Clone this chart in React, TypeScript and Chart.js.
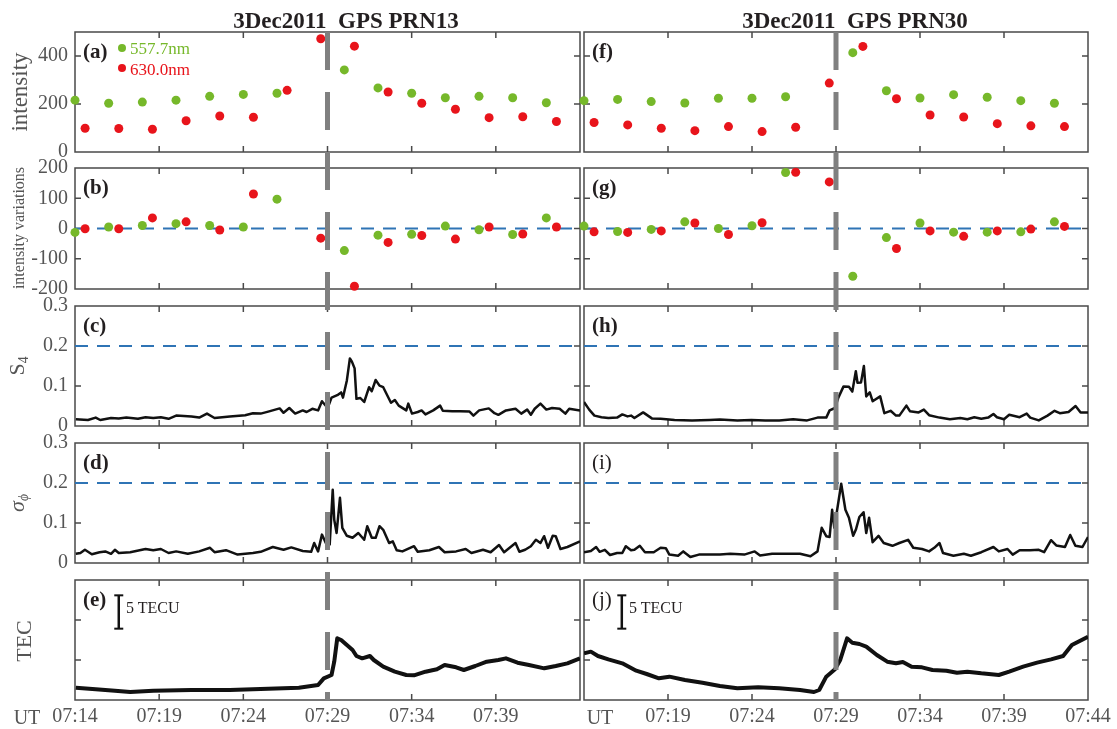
import React, { useEffect, useRef } from "react";
import { Chart, registerables } from "chart.js";

Chart.register(...registerables);

/* ================= data ================= */
// time axis: minutes after 07:14 UT
const timeRange = [0, 30];
const timeTicks = [0, 5, 10, 15, 20, 25, 30];
const xLabelsPRN13 = ["07:14", "07:19", "07:24", "07:29", "07:34", "07:39", ""];
const xLabelsPRN30 = ["", "07:19", "07:24", "07:29", "07:34", "07:39", "07:44"];
const eventTime = 15; // 07:29

const intensityTicks = [0, 200, 400];
const variationTicks = [-200, -100, 0, 100, 200];
const scintTicks = [0, 0.1, 0.2, 0.3];
const tecTicks = [6, 12];

const zeroLevel = 0;
const s4Threshold = 0.2;
const sigmaThreshold = 0.2;

// airglow sample times
const greenTimes = [0, 2, 4, 6, 8, 10, 12, 16, 18, 20, 22, 24, 26, 28];
const redTimes = [0.6, 2.6, 4.6, 6.6, 8.6, 10.6, 12.6, 14.6, 16.6, 18.6, 20.6, 22.6, 24.6, 26.6, 28.6];

// PRN13 airglow intensity
const green13 = [216, 203, 208, 216, 232, 240, 245, 342, 267, 245, 226, 232, 226, 205];
const red13 = [99, 98, 95, 130, 150, 145, 257, 472, 441, 250, 203, 178, 143, 147, 127];
// PRN13 intensity variations
const green13Var = [-13, 5, 10, 16, 10, 5, 97, -73, -22, -19, 8, -4, -20, 35];
const red13Var = [-1, -1, 35, 22, -5, 114, null, -32, -191, -46, -23, -35, 5, -18, 5];

// PRN30 airglow intensity
const green30 = [214, 219, 210, 204, 224, 224, 230, 414, 255, 225, 239, 228, 214, 203];
const red30 = [123, 113, 99, 89, 106, 85, 103, 287, 440, 222, 154, 146, 118, 109, 106];
// PRN30 intensity variations
const green30Var = [8, -10, -3, 22, 0, 9, 185, -158, -30, 18, -12, -12, -11, 22];
const red30Var = [-11, -13, -8, 18, -20, 19, 186, 154, null, -66, -8, -26, -8, -2, 7];

// S4 PRN13
const s4Times13 = [0.05, 0.77, 1.23, 1.5, 2.14, 2.6, 3.05, 3.74, 4.19, 4.65, 5.1, 5.56, 6.01, 6.92, 7.38, 7.84, 8.29, 9.2, 10.11, 10.57, 11.03, 11.48, 12.16, 12.39, 12.73, 13.08, 13.53, 13.76, 14.1, 14.44, 14.67, 15.01, 15.24, 15.58, 15.81, 15.92, 16.15, 16.33, 16.45, 16.61, 16.72, 16.95, 17.18, 17.47, 17.63, 17.86, 18.09, 18.31, 18.77, 19.0, 19.23, 19.68, 19.8, 20.02, 20.36, 20.59, 20.82, 21.28, 21.69, 21.85, 22.41, 22.87, 23.44, 23.67, 24.01, 24.58, 24.92, 25.15, 25.6, 26.17, 26.51, 26.86, 27.08, 27.31, 27.65, 28.0, 28.34, 28.79, 29.13, 29.36, 30.0];
const s4Values13 = [0.017, 0.015, 0.021, 0.015, 0.02, 0.019, 0.021, 0.018, 0.022, 0.02, 0.022, 0.018, 0.026, 0.024, 0.021, 0.031, 0.02, 0.024, 0.027, 0.032, 0.031, 0.036, 0.044, 0.033, 0.045, 0.031, 0.039, 0.035, 0.043, 0.039, 0.062, 0.045, 0.071, 0.077, 0.084, 0.071, 0.114, 0.169, 0.161, 0.144, 0.068, 0.07, 0.06, 0.097, 0.087, 0.115, 0.101, 0.097, 0.058, 0.065, 0.051, 0.039, 0.056, 0.031, 0.035, 0.039, 0.029, 0.039, 0.051, 0.038, 0.037, 0.037, 0.036, 0.026, 0.039, 0.044, 0.032, 0.028, 0.039, 0.043, 0.031, 0.041, 0.028, 0.043, 0.056, 0.041, 0.045, 0.043, 0.031, 0.043, 0.039];

// S4 PRN30
const s4Times30 = [0, 0.31, 0.62, 1.04, 1.45, 1.97, 2.28, 2.59, 2.8, 3.0, 3.52, 4.04, 4.56, 5.39, 6.43, 7.47, 8.09, 9.13, 9.96, 10.79, 11.62, 12.45, 13.28, 13.9, 14.42, 14.62, 14.94, 15.14, 15.45, 15.77, 15.97, 16.18, 16.28, 16.49, 16.66, 16.8, 17.01, 17.18, 17.63, 17.88, 18.25, 18.57, 18.77, 19.19, 19.4, 19.92, 20.23, 20.54, 21.16, 21.78, 22.4, 22.82, 23.23, 23.65, 24.06, 24.37, 24.58, 25.0, 25.31, 25.93, 26.35, 26.56, 27.07, 27.59, 28.01, 28.32, 28.84, 29.26, 29.56, 30.0];
const s4Values30 = [0.06, 0.041, 0.026, 0.022, 0.02, 0.021, 0.029, 0.024, 0.026, 0.02, 0.034, 0.019, 0.018, 0.015, 0.014, 0.015, 0.016, 0.014, 0.015, 0.014, 0.014, 0.017, 0.014, 0.021, 0.021, 0.039, 0.045, 0.071, 0.099, 0.098, 0.086, 0.137, 0.108, 0.109, 0.15, 0.074, 0.084, 0.062, 0.074, 0.032, 0.038, 0.026, 0.026, 0.051, 0.037, 0.034, 0.041, 0.027, 0.021, 0.017, 0.02, 0.017, 0.022, 0.018, 0.021, 0.03, 0.022, 0.017, 0.028, 0.022, 0.031, 0.021, 0.014, 0.026, 0.038, 0.032, 0.035, 0.05, 0.034, 0.034];

// sigma phi PRN13
const sigmaTimes13 = [0.05, 0.32, 0.59, 1.0, 1.46, 1.8, 2.14, 2.37, 2.6, 3.28, 4.19, 4.65, 5.1, 5.56, 6.01, 6.7, 7.38, 8.02, 8.29, 8.97, 9.66, 10.57, 11.03, 11.75, 12.39, 12.85, 13.53, 14.03, 14.21, 14.44, 14.67, 14.9, 15.13, 15.31, 15.4, 15.54, 15.74, 15.88, 16.15, 16.49, 16.83, 17.18, 17.36, 17.63, 17.86, 18.09, 18.31, 18.66, 18.88, 19.11, 19.45, 20.14, 20.36, 21.05, 21.62, 21.96, 22.64, 23.21, 23.55, 24.24, 24.69, 25.19, 25.49, 26.17, 26.4, 26.74, 27.08, 27.38, 27.65, 27.87, 28.1, 28.38, 28.56, 28.84, 29.25, 30.0];
const sigmaValues13 = [0.023, 0.025, 0.033, 0.022, 0.027, 0.029, 0.023, 0.033, 0.025, 0.027, 0.035, 0.032, 0.035, 0.025, 0.029, 0.023, 0.029, 0.038, 0.027, 0.032, 0.021, 0.025, 0.028, 0.04, 0.033, 0.039, 0.03, 0.028, 0.05, 0.029, 0.071, 0.05, 0.046, 0.183, 0.108, 0.075, 0.163, 0.088, 0.068, 0.063, 0.075, 0.058, 0.092, 0.063, 0.063, 0.092, 0.083, 0.05, 0.054, 0.032, 0.029, 0.042, 0.028, 0.032, 0.04, 0.027, 0.029, 0.035, 0.025, 0.033, 0.027, 0.045, 0.027, 0.05, 0.028, 0.033, 0.042, 0.058, 0.05, 0.067, 0.038, 0.068, 0.067, 0.035, 0.04, 0.054];

// sigma phi PRN30
const sigmaTimes30 = [0, 0.41, 0.72, 0.93, 1.24, 1.55, 1.97, 2.28, 2.49, 2.8, 3.0, 3.32, 3.63, 4.15, 4.56, 4.87, 5.08, 5.6, 5.91, 6.33, 6.84, 7.47, 8.09, 8.71, 9.54, 10.16, 10.48, 11.2, 12.03, 12.86, 13.48, 13.9, 14.15, 14.42, 14.62, 14.77, 14.9, 15.04, 15.31, 15.56, 15.77, 16.02, 16.18, 16.39, 16.64, 16.8, 16.97, 17.18, 17.53, 17.84, 18.36, 18.77, 19.29, 19.6, 20.12, 20.54, 20.85, 21.16, 21.37, 21.99, 22.61, 23.03, 23.65, 24.37, 24.69, 25.21, 25.52, 25.93, 26.55, 27.07, 27.39, 27.8, 28.11, 28.63, 28.94, 29.25, 29.67, 30.0];
const sigmaValues30 = [0.027, 0.03, 0.04, 0.028, 0.033, 0.02, 0.025, 0.025, 0.042, 0.032, 0.033, 0.043, 0.027, 0.027, 0.038, 0.037, 0.021, 0.018, 0.029, 0.015, 0.021, 0.021, 0.021, 0.023, 0.021, 0.029, 0.019, 0.023, 0.023, 0.023, 0.017, 0.029, 0.088, 0.067, 0.065, 0.133, 0.088, 0.125, 0.198, 0.133, 0.113, 0.068, 0.083, 0.115, 0.127, 0.075, 0.113, 0.052, 0.068, 0.05, 0.043, 0.05, 0.058, 0.038, 0.035, 0.029, 0.038, 0.05, 0.025, 0.018, 0.023, 0.018, 0.027, 0.04, 0.029, 0.035, 0.021, 0.032, 0.032, 0.033, 0.027, 0.057, 0.044, 0.04, 0.07, 0.043, 0.04, 0.065];

// relative TEC (TECU) PRN13
const tecTimes13 = [0.05, 1.23, 2.37, 3.28, 4.65, 6.92, 9.2, 11.48, 13.3, 14.44, 14.78, 15.24, 15.4, 15.58, 15.81, 16.15, 16.49, 16.72, 17.06, 17.52, 17.75, 18.31, 19.0, 19.68, 20.14, 20.82, 21.5, 21.96, 22.64, 23.1, 23.78, 24.46, 25.15, 25.6, 26.29, 26.97, 27.88, 28.56, 29.25, 30.0];
const tecValues13 = [1.85, 1.6, 1.4, 1.2, 1.4, 1.5, 1.5, 1.7, 1.85, 2.25, 3.25, 3.75, 5.75, 9.25, 9.0, 8.25, 7.5, 6.6, 6.25, 6.6, 6.0, 5.0, 4.25, 3.75, 3.7, 4.25, 4.6, 5.25, 4.9, 4.5, 5.1, 5.75, 6.0, 6.25, 5.6, 5.25, 4.75, 5.1, 5.5, 6.25];

// relative TEC (TECU) PRN30
const tecTimes30 = [0, 0.41, 0.83, 1.45, 2.28, 3.11, 3.73, 4.46, 5.08, 6.01, 7.05, 8.09, 9.13, 10.37, 11.62, 12.86, 13.69, 14.0, 14.42, 14.94, 15.25, 15.66, 15.97, 16.39, 16.8, 17.43, 18.05, 18.57, 18.98, 19.5, 20.12, 20.74, 21.57, 22.2, 22.82, 23.65, 24.69, 25.31, 26.14, 26.97, 27.8, 28.52, 29.04, 30.0];
const tecValues30 = [7.0, 7.25, 6.6, 6.1, 5.5, 4.4, 3.9, 3.25, 3.5, 3.0, 2.6, 2.1, 1.75, 1.9, 1.75, 1.5, 1.2, 1.5, 3.5, 4.6, 6.0, 9.25, 8.6, 8.4, 8.0, 6.75, 5.75, 5.5, 5.7, 5.0, 4.9, 4.5, 4.4, 4.1, 4.25, 4.0, 3.75, 4.25, 5.0, 5.6, 6.1, 6.6, 8.25, 9.5];

// 5 TECU scale bar
const tecBarTimes = [2.6, 2.25];
const tecBarBase = 10.7;
const tecBarLength = 5;

/* ================= style ================= */
const SERIF = '"Liberation Serif", "Times New Roman", Times, serif';
const GREEN = "#76B82A";
const RED = "#E8141B";
const BLUE = "#2F74B5";
const EVENT_GRAY = "#808080";
const FRAME = "#4a4a4a";
const TICK_TEXT = "#555555";
const DARK = "#231f20";
const LINE = "#111111";

const COL_X = [
  [75, 580],
  [584, 1088],
];
const ROW_Y = [
  [32, 152],
  [168, 289],
  [306, 426],
  [443, 563],
  [580, 700],
];
const PAD_T = 14;
const PAD_B = 14;
const XAXIS_H = 34;

type XY = { x: number; y: number | null };
const pts = (xs: number[], ys: (number | null)[]): XY[] =>
  xs.map((x, i) => ({ x, y: ys[i] === undefined ? null : ys[i] }));

const frameTicks = {
  id: "frameTicks",
  beforeDatasetsDraw(chart: any) {
    const { ctx, chartArea: a, scales } = chart;
    ctx.save();
    ctx.strokeStyle = FRAME;
    ctx.lineWidth = 1.5;
    ctx.strokeRect(a.left, a.top, a.right - a.left, a.bottom - a.top);
    const L = 6;
    ctx.beginPath();
    for (const t of scales.x.ticks) {
      const p = scales.x.getPixelForValue(t.value);
      if (p <= a.left + 1 || p >= a.right - 1) continue;
      ctx.moveTo(p, a.top);
      ctx.lineTo(p, a.top + L);
      ctx.moveTo(p, a.bottom);
      ctx.lineTo(p, a.bottom - L);
    }
    for (const t of scales.y.ticks) {
      const p = scales.y.getPixelForValue(t.value);
      if (p <= a.top + 1 || p >= a.bottom - 1) continue;
      ctx.moveTo(a.left, p);
      ctx.lineTo(a.left + L, p);
      ctx.moveTo(a.right, p);
      ctx.lineTo(a.right - L, p);
    }
    ctx.stroke();
    ctx.restore();
  },
};

function scatterSet(xs: number[], ys: (number | null)[], color: string) {
  return {
    data: pts(xs, ys),
    showLine: false,
    pointRadius: 4.5,
    pointBorderWidth: 0,
    backgroundColor: color,
    borderColor: color,
    clip: false,
  };
}
function hline(v: number) {
  return {
    data: [
      { x: timeRange[0], y: v },
      { x: timeRange[1], y: v },
    ],
    showLine: true,
    borderColor: BLUE,
    borderWidth: 2,
    borderDash: [13, 9],
    pointRadius: 0,
  };
}
function curve(xs: number[], ys: number[], w: number) {
  return {
    data: pts(xs, ys),
    showLine: true,
    borderColor: LINE,
    borderWidth: w,
    pointRadius: 0,
    tension: 0,
    borderJoinStyle: "round",
  };
}
function scaleBar(t: number) {
  return {
    data: [
      { x: t, y: tecBarBase },
      { x: t, y: tecBarBase + tecBarLength },
    ],
    showLine: true,
    borderColor: LINE,
    borderWidth: 2.5,
    pointStyle: "line",
    pointRadius: 4.5,
    pointBorderWidth: 2,
    pointBorderColor: LINE,
    clip: false,
  };
}

type Spec = {
  col: number;
  row: number;
  yMin: number;
  yMax: number;
  yTicks: number[];
  yLabels: boolean;
  datasets: () => any[];
};

const SPECS: Spec[] = [
  { col: 0, row: 0, yMin: 0, yMax: 500, yTicks: intensityTicks, yLabels: true, datasets: () => [scatterSet(greenTimes, green13, GREEN), scatterSet(redTimes, red13, RED)] },
  { col: 0, row: 1, yMin: -200, yMax: 200, yTicks: variationTicks, yLabels: true, datasets: () => [scatterSet(greenTimes, green13Var, GREEN), scatterSet(redTimes, red13Var, RED), hline(zeroLevel)] },
  { col: 0, row: 2, yMin: 0, yMax: 0.3, yTicks: scintTicks, yLabels: true, datasets: () => [curve(s4Times13, s4Values13, 2.5), hline(s4Threshold)] },
  { col: 0, row: 3, yMin: 0, yMax: 0.3, yTicks: scintTicks, yLabels: true, datasets: () => [curve(sigmaTimes13, sigmaValues13, 2.5), hline(sigmaThreshold)] },
  { col: 0, row: 4, yMin: 0, yMax: 18, yTicks: tecTicks, yLabels: false, datasets: () => [curve(tecTimes13, tecValues13, 4), scaleBar(tecBarTimes[0])] },
  { col: 1, row: 0, yMin: 0, yMax: 500, yTicks: intensityTicks, yLabels: false, datasets: () => [scatterSet(greenTimes, green30, GREEN), scatterSet(redTimes, red30, RED)] },
  { col: 1, row: 1, yMin: -200, yMax: 200, yTicks: variationTicks, yLabels: false, datasets: () => [scatterSet(greenTimes, green30Var, GREEN), scatterSet(redTimes, red30Var, RED), hline(zeroLevel)] },
  { col: 1, row: 2, yMin: 0, yMax: 0.3, yTicks: scintTicks, yLabels: false, datasets: () => [curve(s4Times30, s4Values30, 2.5), hline(s4Threshold)] },
  { col: 1, row: 3, yMin: 0, yMax: 0.3, yTicks: scintTicks, yLabels: false, datasets: () => [curve(sigmaTimes30, sigmaValues30, 2.5), hline(sigmaThreshold)] },
  { col: 1, row: 4, yMin: 0, yMax: 18, yTicks: tecTicks, yLabels: false, datasets: () => [curve(tecTimes30, tecValues30, 4), scaleBar(tecBarTimes[1])] },
];

function geom(col: number, row: number) {
  const [x0, x1] = COL_X[col];
  const [y0, y1] = ROW_Y[row];
  const axisW = col === 0 ? 75 : 10;
  const padR = col === 0 ? 10 : 29;
  const bottomRow = row === ROW_Y.length - 1;
  return {
    left: x0 - axisW,
    top: y0 - PAD_T,
    w: x1 - x0 + axisW + padR,
    h: y1 - y0 + PAD_T + (bottomRow ? XAXIS_H : PAD_B),
    axisW,
    padR,
    bottomRow,
  };
}

function panelConfig(s: Spec): any {
  const g = geom(s.col, s.row);
  const xLabels = s.col === 0 ? xLabelsPRN13 : xLabelsPRN30;
  const font = { family: SERIF, size: 20 };
  return {
    type: "scatter",
    data: { datasets: s.datasets() },
    plugins: [frameTicks],
    options: {
      responsive: false,
      animation: false,
      devicePixelRatio: 1,
      events: [],
      layout: { padding: { left: 0, right: g.padR, top: PAD_T, bottom: g.bottomRow ? 0 : PAD_B } },
      plugins: { legend: { display: false }, tooltip: { enabled: false } },
      scales: {
        x: {
          type: "linear",
          min: timeRange[0],
          max: timeRange[1],
          afterBuildTicks: (sc: any) => {
            sc.ticks = timeTicks.map((v) => ({ value: v }));
          },
          afterFit: (sc: any) => {
            sc.height = g.bottomRow ? XAXIS_H : 0;
            sc.paddingLeft = 0;
            sc.paddingRight = 0;
          },
          grid: { display: false, drawTicks: false },
          border: { display: false },
          ticks: {
            display: g.bottomRow,
            padding: 5,
            autoSkip: false,
            maxRotation: 0,
            font,
            color: TICK_TEXT,
            callback: (_v: any, i: number) => xLabels[i],
          },
        },
        y: {
          type: "linear",
          min: s.yMin,
          max: s.yMax,
          afterBuildTicks: (sc: any) => {
            sc.ticks = s.yTicks.map((v) => ({ value: v }));
          },
          afterFit: (sc: any) => {
            sc.width = g.axisW;
            sc.paddingTop = 0;
            sc.paddingBottom = 0;
          },
          grid: { display: false, drawTicks: false },
          border: { display: false },
          ticks: {
            display: s.yLabels,
            padding: 7,
            font,
            color: TICK_TEXT,
            callback: (v: any) => String(v),
          },
        },
      },
    },
  };
}

function eventConfig(): any {
  return {
    type: "scatter",
    data: {
      datasets: [
        {
          data: [
            { x: eventTime, y: 1 },
            { x: eventTime, y: 0 },
          ],
          showLine: true,
          borderColor: EVENT_GRAY,
          borderWidth: 5,
          borderDash: [38, 22],
          pointRadius: 0,
          clip: false,
        },
      ],
    },
    options: {
      responsive: false,
      animation: false,
      devicePixelRatio: 1,
      events: [],
      layout: { padding: 0 },
      plugins: { legend: { display: false }, tooltip: { enabled: false } },
      scales: {
        x: { type: "linear", min: timeRange[0], max: timeRange[1], display: false },
        y: { type: "linear", min: 0, max: 1, display: false },
      },
    },
  };
}

function Txt(props: {
  x: number;
  y: number;
  size?: number;
  bold?: boolean;
  color?: string;
  rotate?: boolean;
  left?: boolean;
  children: any;
}) {
  const { x, y, size = 20, bold = false, color = TICK_TEXT, rotate = false, left = false } = props;
  return (
    <div
      style={{
        position: "absolute",
        left: x,
        top: y,
        transform: `translate(${left ? "0" : "-50%"},-50%)${rotate ? " rotate(-90deg)" : ""}`,
        fontFamily: SERIF,
        fontSize: size,
        fontWeight: bold ? 700 : 400,
        color,
        whiteSpace: "pre",
        lineHeight: 1,
        pointerEvents: "none",
      }}
    >
      {props.children}
    </div>
  );
}

const sub = { fontSize: "0.62em", verticalAlign: "-0.28em" };

const panelLetters = [
  ["(a)", "(b)", "(c)", "(d)", "(e)"],
  ["(f)", "(g)", "(h)", "(i)", "(j)"],
];
const letterBold = [
  [true, true, true, true, true],
  [true, true, true, false, false],
];

export default function App() {
  const refs = useRef<(HTMLCanvasElement | null)[]>([]);
  const evRefs = useRef<(HTMLCanvasElement | null)[]>([]);

  useEffect(() => {
    const charts: Chart[] = [];
    SPECS.forEach((s, i) => {
      const c = refs.current[i];
      if (c) charts.push(new Chart(c, panelConfig(s)));
    });
    evRefs.current.forEach((c) => {
      if (c) charts.push(new Chart(c, eventConfig()));
    });
    return () => charts.forEach((c) => c.destroy());
  }, []);

  return (
    <div
      style={{
        position: "absolute",
        left: 0,
        top: 0,
        width: 1117,
        height: 729,
        background: "#ffffff",
        overflow: "hidden",
      }}
    >
      {SPECS.map((s, i) => {
        const g = geom(s.col, s.row);
        return (
          <canvas
            key={i}
            ref={(el) => {
              refs.current[i] = el;
            }}
            width={g.w}
            height={g.h}
            style={{ position: "absolute", left: g.left, top: g.top, width: g.w, height: g.h }}
          />
        );
      })}
      {COL_X.map(([x0, x1], i) => (
        <canvas
          key={"ev" + i}
          ref={(el) => {
            evRefs.current[i] = el;
          }}
          width={x1 - x0}
          height={ROW_Y[4][1] - ROW_Y[0][0]}
          style={{
            position: "absolute",
            left: x0,
            top: ROW_Y[0][0],
            width: x1 - x0,
            height: ROW_Y[4][1] - ROW_Y[0][0],
            pointerEvents: "none",
          }}
        />
      ))}

      <Txt x={346} y={20} size={23} bold color={DARK}>
        {"3Dec2011  GPS PRN13"}
      </Txt>
      <Txt x={855} y={20} size={23} bold color={DARK}>
        {"3Dec2011  GPS PRN30"}
      </Txt>

      <Txt x={19} y={92} size={23} rotate>
        intensity
      </Txt>
      <Txt x={19} y={228} size={16} rotate>
        intensity variations
      </Txt>
      <Txt x={18} y={366} size={22} rotate>
        <span>S</span>
        <span style={sub}>4</span>
      </Txt>
      <Txt x={18} y={503} size={22} rotate>
        <i>σ</i>
        <span style={sub}>
          <i>ϕ</i>
        </span>
      </Txt>
      <Txt x={24} y={641} size={22} rotate>
        TEC
      </Txt>

      {panelLetters.map((col, ci) =>
        col.map((lab, ri) => (
          <Txt
            key={lab}
            x={COL_X[ci][0] + 8}
            y={ROW_Y[ri][0] + 19}
            size={21}
            bold={letterBold[ci][ri]}
            color={DARK}
            left
          >
            {lab}
          </Txt>
        ))
      )}

      <div style={{ position: "absolute", left: 118, top: 44, width: 8, height: 8, borderRadius: "50%", background: GREEN }} />
      <Txt x={130} y={48} size={17} color={GREEN} left>
        557.7nm
      </Txt>
      <div style={{ position: "absolute", left: 118, top: 64, width: 8, height: 8, borderRadius: "50%", background: RED }} />
      <Txt x={130} y={69} size={17} color={RED} left>
        630.0nm
      </Txt>

      <Txt x={126} y={608} size={16} color={DARK} left>
        5 TECU
      </Txt>
      <Txt x={629} y={608} size={16} color={DARK} left>
        5 TECU
      </Txt>

      <Txt x={27} y={717} size={20}>
        UT
      </Txt>
      <Txt x={600} y={717} size={20}>
        UT
      </Txt>
    </div>
  );
}
